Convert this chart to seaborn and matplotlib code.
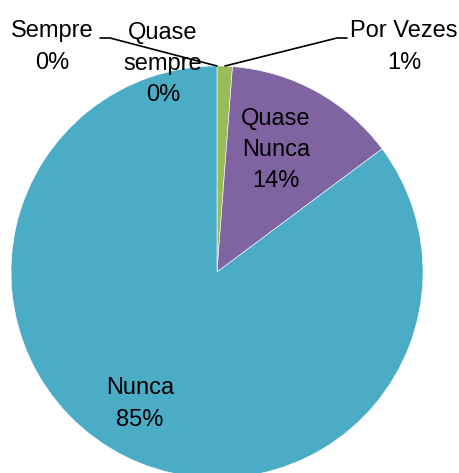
import matplotlib
matplotlib.use("Agg")
import matplotlib.pyplot as plt
import seaborn as sns

# data
categories = ["Sempre", "Quase\nsempre", "Por Vezes", "Quase\nNunca", "Nunca"]
values = [0.0, 0.0, 1.2, 13.6, 85.2]
colors = ["#4F81BD", "#C0504D", "#9BBB59", "#8064A2", "#4BACC6"]

sns.set_style("white")
plt.rcParams['font.family'] = ['Liberation Sans', 'DejaVu Sans']
plt.rcParams['text.color'] = 'black'

W, H = 459, 473
fig = plt.figure(figsize=(W / 100, H / 100), dpi=100)
# pie centre (217, 272) px, radius 206 px
cx, cy, r = 217, 272, 206
ax = fig.add_axes([(cx - r) / W, (H - cy - r) / H, 2 * r / W, 2 * r / H])
ax.pie(values, colors=colors, startangle=90, counterclock=False, radius=1,
       wedgeprops=dict(edgecolor="white", linewidth=0.4))
ax.set_xlim(-1, 1)
ax.set_ylim(-1, 1)
ax.set_aspect("auto")
ax.axis("off")

def px(x, y):
    return (x - cx) / r, (cy - y) / r

total = sum(values)
pct = ["%d%%" % round(v / total * 100) for v in values]
label_pos = [(52, 47), (163, 64), (404, 47), (276, 150), (140, 404)]
for name, p, (lx, ly) in zip(categories, pct, label_pos):
    x, y = px(lx, ly)
    ax.text(x, y, "%s\n%s" % (name, p), ha="center", va="center",
            fontsize=17, linespacing=1.55, color="black", clip_on=False)

# leader lines
for pts in ([(217, 66), (110, 38), (100, 38)], [(225, 66), (337, 38), (347, 38)]):
    xs, ys = zip(*[px(a, b) for a, b in pts])
    ax.plot(xs, ys, color="black", linewidth=1.2, clip_on=False)

fig.savefig("out.png", dpi=100)
